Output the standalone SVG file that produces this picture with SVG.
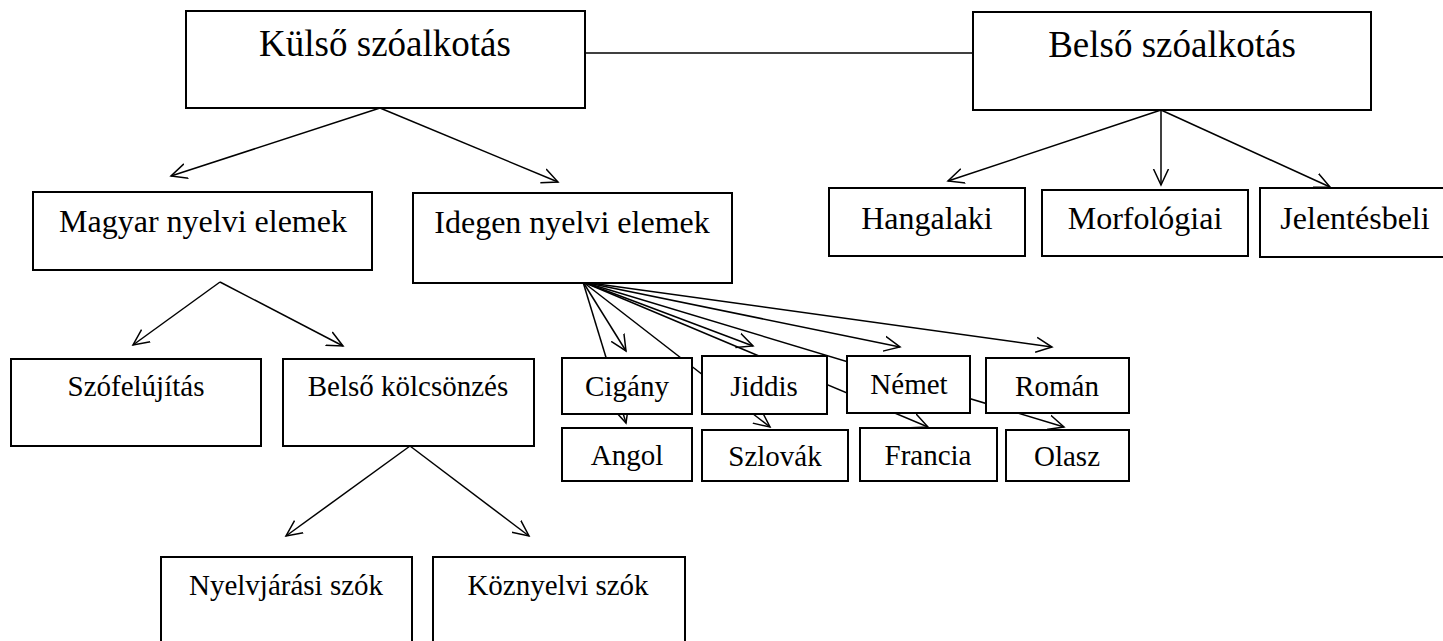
<svg xmlns="http://www.w3.org/2000/svg" width="1443" height="641" viewBox="0 0 1443 641">
<style>
.box{fill:#fff;stroke:#000;stroke-width:2}
.t{font-family:"Liberation Serif","Times New Roman",serif;fill:#000;text-anchor:middle}
.l{font-size:37px}
.m{font-size:32px}
.s{font-size:29px}
.c{stroke:#000;stroke-width:1.5;fill:none}
.a{marker-end:url(#arr)}
</style>
<defs>
<marker id="arr" markerUnits="userSpaceOnUse" markerWidth="20" markerHeight="20" viewBox="0 0 20 20" refX="16" refY="10" orient="auto">
<path d="M0,2.5 L16,10 L0,17.5" fill="none" stroke="#000" stroke-width="1.5"/>
</marker>
</defs>
<rect width="1443" height="641" fill="#fff"/>
<g id="connectors">
<line class="c" x1="582" y1="53" x2="973" y2="53"/>
<line class="c a" x1="380" y1="108" x2="171" y2="176"/>
<line class="c a" x1="380" y1="108" x2="558" y2="182"/>
<line class="c a" x1="1161" y1="110" x2="948" y2="181"/>
<line class="c a" x1="1161" y1="110" x2="1161" y2="185"/>
<line class="c a" x1="1161" y1="110" x2="1330" y2="187"/>
<line class="c a" x1="220" y1="282" x2="133" y2="345"/>
<line class="c a" x1="220" y1="282" x2="343" y2="346"/>
<line class="c a" x1="410" y1="446" x2="286" y2="536"/>
<line class="c a" x1="410" y1="446" x2="529" y2="536"/>
<line class="c a" x1="583" y1="282" x2="626" y2="351"/>
<line class="c a" x1="583" y1="282" x2="626" y2="423"/>
<line class="c a" x1="583" y1="282" x2="753" y2="346"/>
<line class="c a" x1="583" y1="282" x2="770" y2="427"/>
<line class="c a" x1="583" y1="282" x2="900" y2="347"/>
<line class="c a" x1="583" y1="282" x2="928" y2="427"/>
<line class="c a" x1="583" y1="282" x2="1052" y2="347"/>
<line class="c a" x1="583" y1="282" x2="1064" y2="427"/>
</g>
<g id="kulso"><rect class="box" x="186" y="11" width="399" height="97"/><text class="t l" x="385" y="56">Külső szóalkotás</text></g>
<g id="belso"><rect class="box" x="973" y="12" width="398" height="98"/><text class="t l" x="1172" y="57">Belső szóalkotás</text></g>
<g id="magyar"><rect class="box" x="33" y="192" width="339" height="78"/><text class="t m" x="203" y="232">Magyar nyelvi elemek</text></g>
<g id="idegen"><rect class="box" x="413" y="193" width="319" height="90"/><text class="t m" x="572" y="233">Idegen nyelvi elemek</text></g>
<g id="hangalaki"><rect class="box" x="829" y="188" width="196" height="68"/><text class="t m" x="927" y="229">Hangalaki</text></g>
<g id="morfologiai"><rect class="box" x="1042" y="190" width="206" height="66"/><text class="t m" x="1145" y="229">Morfológiai</text></g>
<g id="jelentesbeli"><rect class="box" x="1260" y="188" width="192" height="69"/><text class="t m" x="1355" y="229">Jelentésbeli</text></g>
<g id="szofelujitas"><rect class="box" x="11" y="359" width="250" height="87"/><text class="t s" x="136" y="396">Szófelújítás</text></g>
<g id="belsokolcsonzes"><rect class="box" x="283" y="359" width="251" height="87"/><text class="t s" x="408" y="396">Belső kölcsönzés</text></g>
<g id="nyelvjarasi"><rect class="box" x="161" y="557" width="251" height="120"/><text class="t s" x="286" y="595">Nyelvjárási szók</text></g>
<g id="koznyelvi"><rect class="box" x="433" y="557" width="252" height="120"/><text class="t s" x="558" y="595">Köznyelvi szók</text></g>
<g id="cigany"><rect class="box" x="562" y="358" width="130" height="56"/><text class="t s" x="627" y="396">Cigány</text></g>
<g id="jiddis"><rect class="box" x="702" y="356" width="125" height="58"/><text class="t s" x="764" y="396">Jiddis</text></g>
<g id="nemet"><rect class="box" x="847" y="356" width="123" height="57"/><text class="t s" x="909" y="394">Német</text></g>
<g id="roman"><rect class="box" x="986" y="358" width="143" height="55"/><text class="t s" x="1057" y="396">Román</text></g>
<g id="angol"><rect class="box" x="562" y="428" width="130" height="53"/><text class="t s" x="627" y="465">Angol</text></g>
<g id="szlovak"><rect class="box" x="702" y="430" width="146" height="51"/><text class="t s" x="775" y="466">Szlovák</text></g>
<g id="francia"><rect class="box" x="860" y="428" width="137" height="53"/><text class="t s" x="928" y="465">Francia</text></g>
<g id="olasz"><rect class="box" x="1006" y="430" width="123" height="51"/><text class="t s" x="1067" y="466">Olasz</text></g>
</svg>
